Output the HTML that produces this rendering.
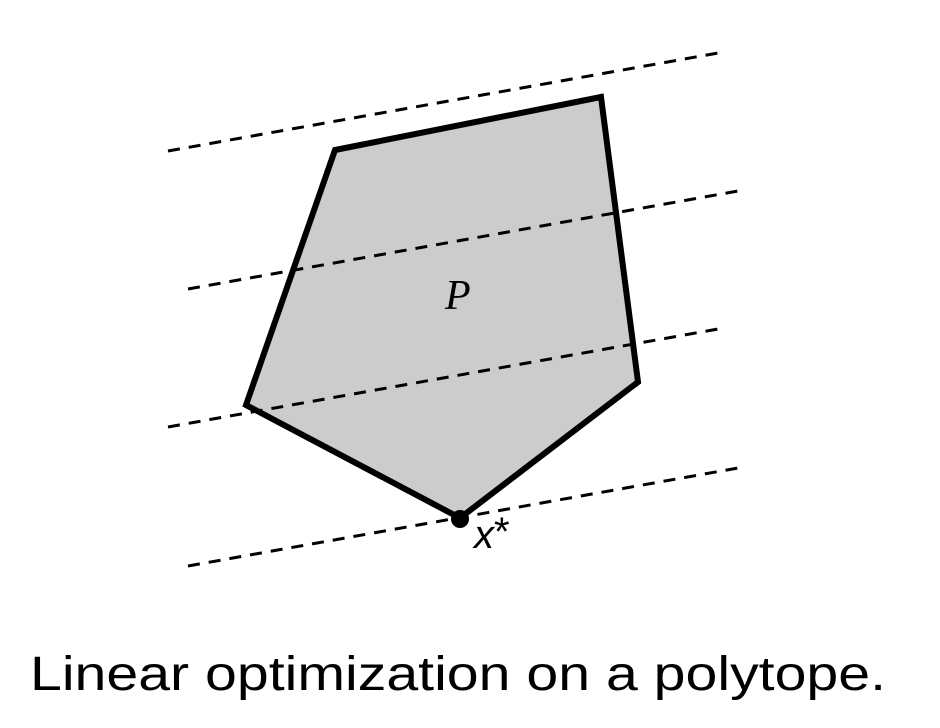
<!DOCTYPE html>
<html><head><meta charset="utf-8"><style>
html,body{margin:0;padding:0;background:#fff;width:940px;height:728px;overflow:hidden}
</style></head><body>
<svg width="940" height="728" viewBox="0 0 940 728">
<polygon points="335,150 601,97 638,382 460,518 246,405" fill="#cccccc" stroke="none"/>
<g stroke="#000" stroke-width="3" stroke-dasharray="12,9" fill="none">
<line x1="168" y1="151" x2="718" y2="53"/>
<line x1="188" y1="289" x2="738" y2="191"/>
<line x1="168" y1="427" x2="718" y2="329"/>
<line x1="188" y1="566" x2="738" y2="468"/>
</g>
<polygon points="335,150 601,97 638,382 460,518 246,405" fill="none" stroke="#000" stroke-width="6" stroke-linejoin="miter"/>
<circle cx="460" cy="519" r="9" fill="#000"/>
<text x="445" y="309" font-family="Liberation Serif, serif" font-style="italic" font-size="42">P</text>
<text x="474" y="548" font-family="Liberation Sans, sans-serif" font-style="italic" font-size="40">x</text>
<text x="494" y="545" font-family="Liberation Sans, sans-serif" font-size="40">*</text>
<text x="30" y="690" font-family="Liberation Sans, sans-serif" font-size="48" textLength="856" lengthAdjust="spacingAndGlyphs">Linear optimization on a polytope.</text>
</svg>
</body></html>
